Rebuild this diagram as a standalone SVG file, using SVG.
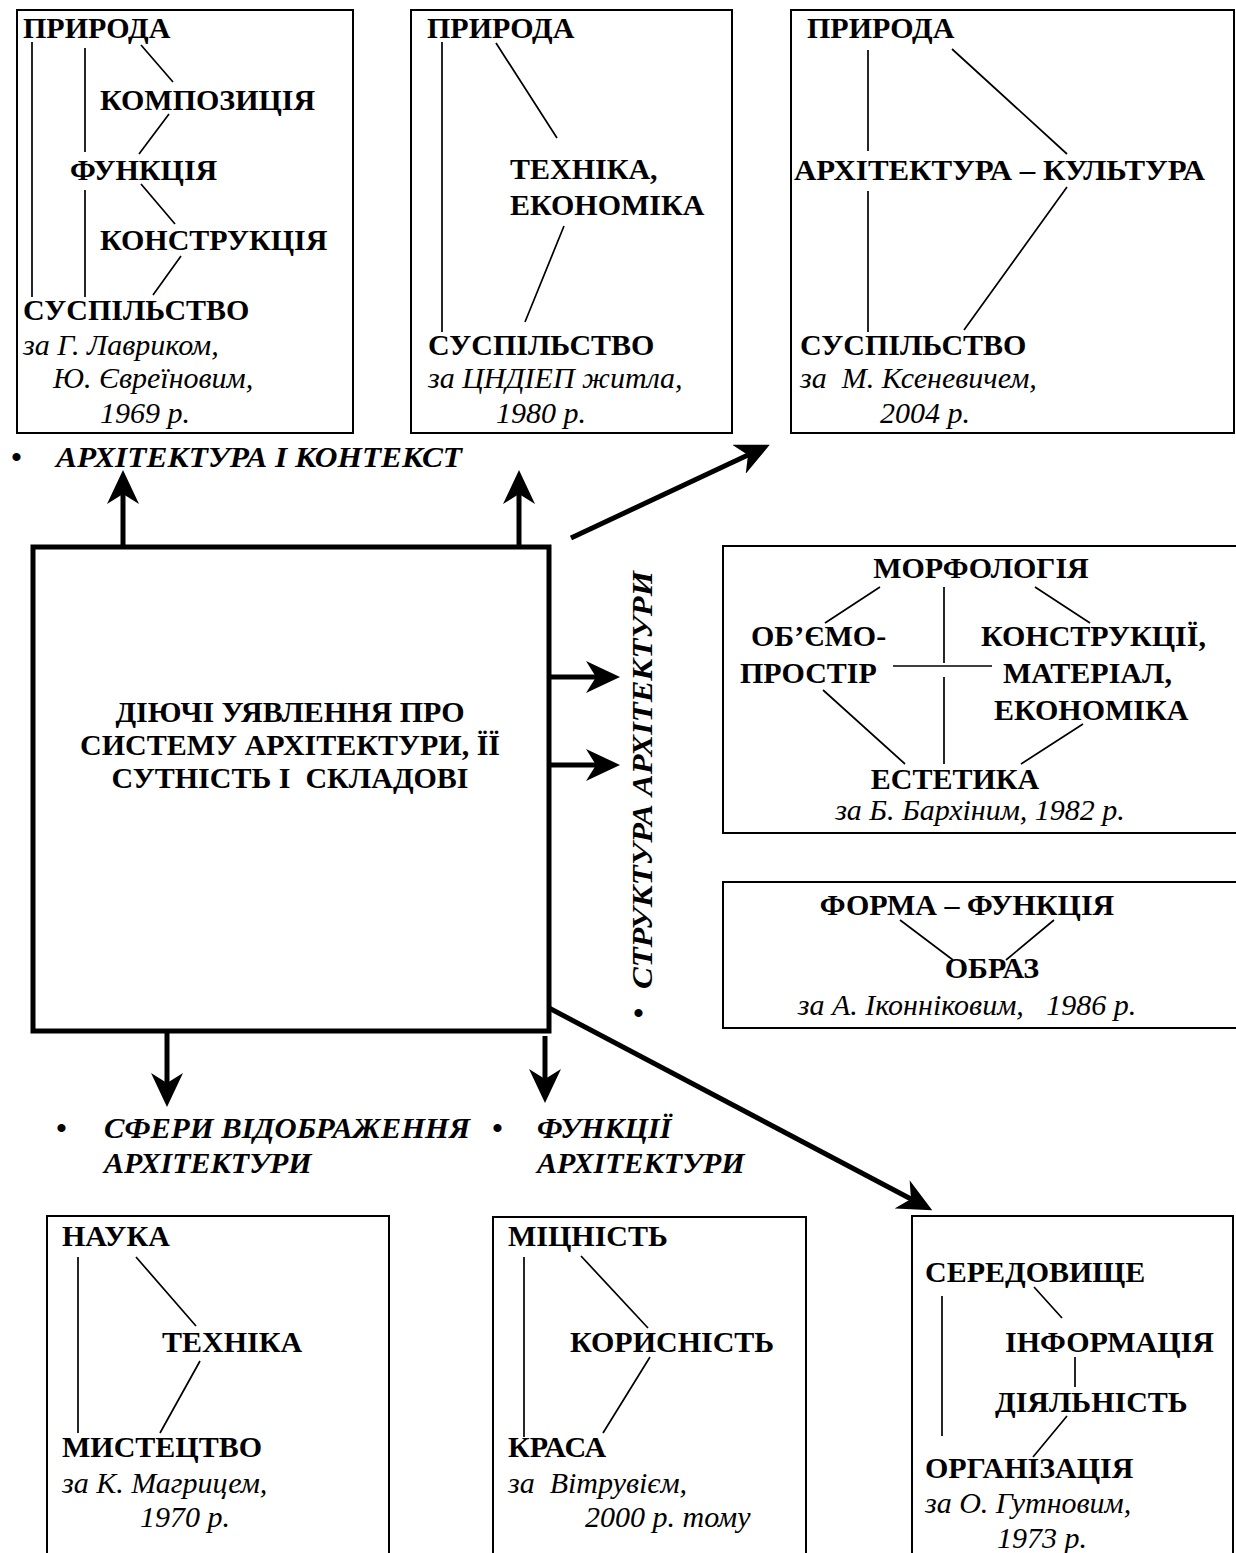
<svg xmlns="http://www.w3.org/2000/svg" width="1236" height="1553" viewBox="0 0 1236 1553">
<style>
text{font-family:"Liberation Serif","Times New Roman",serif;font-size:30px;fill:#000;white-space:pre}
.b{font-weight:bold}
.i{font-style:italic}
.bi{font-weight:bold;font-style:italic}
.m{text-anchor:middle}
.box{fill:none;stroke:#000;stroke-width:2}
.main{fill:none;stroke:#000;stroke-width:5}
.ln{stroke:#000;stroke-width:1.7;fill:none}
.ar{stroke:#000;stroke-width:5;fill:none;marker-end:url(#ah)}
</style>
<defs>
<marker id="ah" markerUnits="userSpaceOnUse" viewBox="0 0 34 32" markerWidth="34" markerHeight="32" refX="10" refY="16" orient="auto">
<path d="M34,16 L0,0 L10,16 L0,32 Z" fill="#000"/>
</marker>
</defs>

<g id="n-lavrik">
<rect class="box" x="17" y="10" width="336" height="423"/>
<text class="b" x="23" y="38">ПРИРОДА</text>
<text class="b" x="100" y="110">КОМПОЗИЦІЯ</text>
<text class="b" x="70" y="180">ФУНКЦІЯ</text>
<text class="b" x="100" y="250">КОНСТРУКЦІЯ</text>
<text class="b" x="23" y="320">СУСПІЛЬСТВО</text>
<text class="i" x="23" y="355">за Г. Лавриком,</text>
<text class="i" x="53" y="388">Ю. Євреїновим,</text>
<text class="i" x="100" y="423">1969 р.</text>
<path class="ln" d="M32,42 V297 M85,48 V152 M85,190 V297 M141,45 L173,82 M169,114 L139,154 M141,184 L175,224 M181,256 L153,295"/>
</g>

<g id="n-cndiep">
<rect class="box" x="411" y="10" width="321" height="423"/>
<text class="b" x="427" y="38">ПРИРОДА</text>
<text class="b" x="510" y="179">ТЕХНІКА,</text>
<text class="b" x="510" y="215">ЕКОНОМІКА</text>
<text class="b" x="428" y="355">СУСПІЛЬСТВО</text>
<text class="i" x="428" y="388">за ЦНДІЕП житла,</text>
<text class="i" x="496" y="423">1980 р.</text>
<path class="ln" d="M442,42 V332 M496,43 L557,138 M564,226 L525,322"/>
</g>

<g id="n-ksenevich">
<rect class="box" x="791" y="10" width="443" height="423"/>
<text class="b" x="807" y="38">ПРИРОДА</text>
<text class="b" x="794" y="180" textLength="411" lengthAdjust="spacingAndGlyphs">АРХІТЕКТУРА – КУЛЬТУРА</text>
<text class="b" x="800" y="355">СУСПІЛЬСТВО</text>
<text class="i" x="800" y="388">за  М. Ксеневичем,</text>
<text class="i" x="880" y="423">2004 р.</text>
<path class="ln" d="M868,50 V151 M868,191 V332 M952,49 L1067,154 M1067,187 L964,330"/>
</g>

<g id="n-context">
<text class="bi" x="11" y="467">•</text>
<text class="bi" x="56" y="467" textLength="406" lengthAdjust="spacingAndGlyphs">АРХІТЕКТУРА І КОНТЕКСТ</text>
</g>

<g id="n-main">
<rect class="main" x="33" y="547" width="516" height="484"/>
<text class="b m" x="290" y="722">ДІЮЧІ УЯВЛЕННЯ ПРО</text>
<text class="b m" x="290" y="755">СИСТЕМУ АРХІТЕКТУРИ, ЇЇ</text>
<text class="b m" x="290" y="788">СУТНІСТЬ І  СКЛАДОВІ</text>
</g>

<g id="n-structure">
<text class="bi m" transform="translate(652,780) rotate(-90)" textLength="418" lengthAdjust="spacingAndGlyphs">СТРУКТУРА АРХІТЕКТУРИ</text>
<text class="bi" x="633" y="1023">•</text>
</g>

<g id="n-barkhin">
<rect class="box" x="723" y="546" width="514" height="287"/>
<text class="b m" x="981" y="578">МОРФОЛОГІЯ</text>
<text class="b" x="751" y="646">ОБ’ЄМО-</text>
<text class="b" x="740" y="683">ПРОСТІР</text>
<text class="b" x="981" y="646">КОНСТРУКЦІЇ,</text>
<text class="b" x="1003" y="683">МАТЕРІАЛ,</text>
<text class="b" x="994" y="720">ЕКОНОМІКА</text>
<text class="b m" x="955" y="789">ЕСТЕТИКА</text>
<text class="i m" x="980" y="820">за Б. Бархіним, 1982 р.</text>
<path class="ln" d="M880,587 L825,623 M944,587 V663 M944,677 V764 M1035,587 L1090,623 M893,666 H992 M823,690 L905,764 M1083,724 L1021,764"/>
</g>

<g id="n-ikonnikov">
<rect class="box" x="723" y="882" width="514" height="146"/>
<text class="b m" x="967" y="915">ФОРМА – ФУНКЦІЯ</text>
<text class="b m" x="992" y="978">ОБРАЗ</text>
<text class="i m" x="967" y="1015">за А. Іконніковим,   1986 р.</text>
<path class="ln" d="M900,920 L953,960 M1054,920 L1006,960"/>
</g>

<g id="n-spheres">
<text class="bi" x="56" y="1138">•</text>
<text class="bi" x="104" y="1138" textLength="366" lengthAdjust="spacingAndGlyphs">СФЕРИ ВІДОБРАЖЕННЯ</text>
<text class="bi" x="104" y="1173">АРХІТЕКТУРИ</text>
</g>

<g id="n-functions">
<text class="bi" x="492" y="1138">•</text>
<text class="bi" x="537" y="1138">ФУНКЦІЇ</text>
<text class="bi" x="537" y="1173">АРХІТЕКТУРИ</text>
</g>

<g id="n-magrits">
<rect class="box" x="47" y="1216" width="342" height="350"/>
<text class="b" x="62" y="1246">НАУКА</text>
<text class="b" x="162" y="1352">ТЕХНІКА</text>
<text class="b" x="62" y="1457">МИСТЕЦТВО</text>
<text class="i" x="62" y="1493">за К. Магрицем,</text>
<text class="i" x="140" y="1527">1970 р.</text>
<path class="ln" d="M78,1257 V1433 M136,1257 L196,1326 M200,1361 L160,1433"/>
</g>

<g id="n-vitruvius">
<rect class="box" x="493" y="1217" width="313" height="350"/>
<text class="b" x="508" y="1246">МІЦНІСТЬ</text>
<text class="b" x="570" y="1352">КОРИСНІСТЬ</text>
<text class="b" x="508" y="1457">КРАСА</text>
<text class="i" x="508" y="1493">за  Вітрувієм,</text>
<text class="i" x="585" y="1527">2000 р. тому</text>
<path class="ln" d="M524,1257 V1437 M581,1256 L648,1328 M650,1357 L603,1433"/>
</g>

<g id="n-gutnov">
<rect class="box" x="912" y="1216" width="321" height="350"/>
<text class="b" x="925" y="1282">СЕРЕДОВИЩЕ</text>
<text class="b" x="1005" y="1352">ІНФОРМАЦІЯ</text>
<text class="b" x="995" y="1412">ДІЯЛЬНІСТЬ</text>
<text class="b" x="925" y="1478">ОРГАНІЗАЦІЯ</text>
<text class="i" x="925" y="1513">за О. Гутновим,</text>
<text class="i" x="997" y="1548">1973 р.</text>
<path class="ln" d="M942,1296 V1436 M1034,1287 L1062,1318 M1075,1357 V1387 M1067,1416 L1033,1457"/>
</g>

<g id="connectors">
<line class="ar" x1="123" y1="547" x2="123" y2="494"/>
<line class="ar" x1="519" y1="547" x2="519" y2="494"/>
<line class="ar" x1="571" y1="538" x2="748" y2="455"/>
<line class="ar" x1="549" y1="677" x2="596" y2="677"/>
<line class="ar" x1="549" y1="765" x2="596" y2="765"/>
<line class="ar" x1="167" y1="1033" x2="167" y2="1083"/>
<line class="ar" x1="545" y1="1036" x2="545" y2="1079"/>
<line class="ar" x1="549" y1="1008" x2="911" y2="1199"/>
</g>
</svg>
